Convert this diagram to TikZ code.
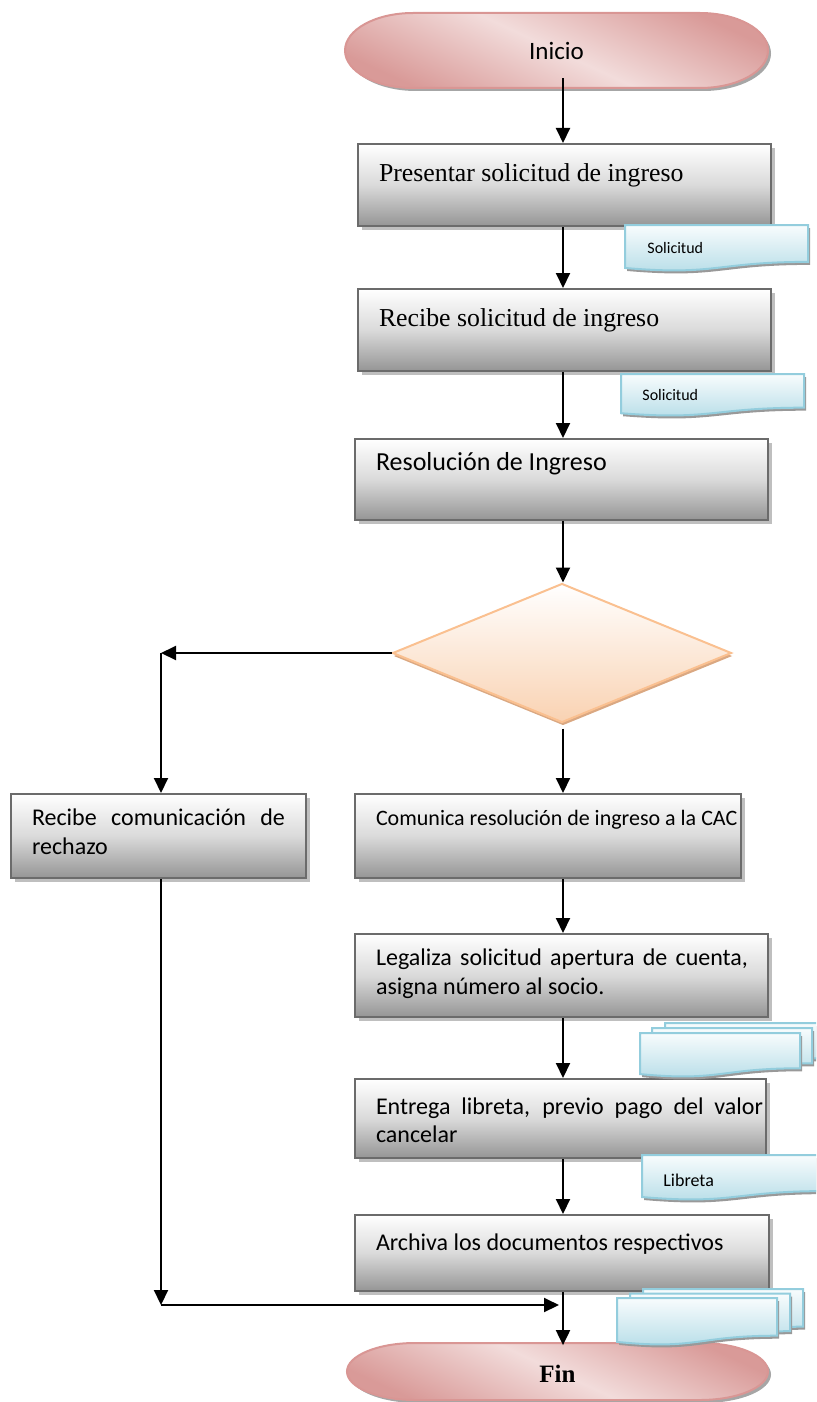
\documentclass[tikz,border=0pt]{standalone}
\usepackage{fontspec}
\setmainfont{Carlito}
\newfontfamily\tnr{Liberation Serif}
\usetikzlibrary{shapes.geometric,shadows,arrows.meta}
\definecolor{boxline}{HTML}{6B6B6B}
\definecolor{boxbot}{HTML}{959595}
\definecolor{boxmid}{HTML}{DADADA}
\definecolor{termline}{HTML}{D99694}
\definecolor{termdark}{HTML}{D99A98}
\definecolor{termlight}{HTML}{F2DCDB}
\definecolor{docline}{HTML}{93CDDD}
\definecolor{doctop}{HTML}{F8FCFD}
\definecolor{docbot}{HTML}{B4DCE7}
\definecolor{dialine}{HTML}{FAC090}
\definecolor{diabot}{HTML}{F9D2B2}
\definecolor{diashadow}{HTML}{DAA882}
\hbadness=10000
\newcommand\procnode[7]{\node[box] (#1) at (#2,#3) {\makebox[#4][l]{\hspace*{10.5pt}\parbox[c][#5][t]{#6}{#7}}};}
\newcommand\docshape[4]{\path[docsh] (#1,#2) -- ({#1+#3},#2) -- ({#1+#3},{#2+0.802*#4}) .. controls ({#1+0.5*#3},{#2+0.802*#4}) and ({#1+0.5*#3},{#2+1.108*#4}) .. (#1,{#2+0.934*#4}) -- cycle;}
\begin{document}
\begin{tikzpicture}[x=0.5pt,y=-0.5pt,
  box/.style={draw=boxline, line width=1pt, top color=white, bottom color=boxbot, middle color=boxmid,
    anchor=north west, inner sep=0pt,
    drop shadow={shadow xshift=2pt, shadow yshift=-2pt, fill=black!25, opacity=1}},
  term/.style={draw=termline, line width=1pt, top color=termdark, bottom color=termdark, middle color=termlight,
    shading angle=-25, drop shadow={shadow xshift=1.5pt, shadow yshift=-1.5pt, fill=black!35, opacity=1}},
  termtext/.style={draw=none, inner sep=0pt},
  docsh/.style={draw=docline, line width=1pt, top color=doctop, bottom color=docbot,
    drop shadow={shadow xshift=1pt, shadow yshift=-1.5pt, fill=black!40, opacity=1}},
  doctext/.style={inner sep=0pt, anchor=west},
  decision/.style={diamond, draw=dialine, line width=1pt, top color=white, bottom color=diabot,
    inner sep=0pt, minimum width=169.5pt, minimum height=69.5pt,
    drop shadow={shadow xshift=0.5pt, shadow yshift=-1.5pt, fill=diashadow, opacity=1}},
  arr/.style={line width=1pt, -{Triangle[length=7.5pt,width=7pt]}},
  plain/.style={line width=1pt}]
\clip (0,0) rectangle (816,1402);
% terminals
\path[term] (413,13) -- (700,13) arc[start angle=90,end angle=-90,x radius=34pt,y radius=18.75pt] -- (413,88) arc[start angle=270,end angle=90,x radius=34pt,y radius=18.75pt] -- cycle;
\node[termtext, minimum width=211.5pt, minimum height=37.5pt, font=\fontsize{12.5}{15}\selectfont] (ini) at (556.5,50.5) {Inicio};
\path[term] (415,1343) -- (700,1343) arc[start angle=90,end angle=-90,x radius=34pt,y radius=14.25pt] -- (415,1400) arc[start angle=270,end angle=90,x radius=34pt,y radius=14.25pt] -- cycle;
\node[termtext, minimum width=210.5pt, minimum height=28.5pt, font=\tnr\bfseries\fontsize{12.5}{15}\selectfont] (fin) at (557.5,1374) {Fin};
% process boxes
\procnode{b1}{357}{143}{206.5pt}{41pt}{185pt}{\vspace*{9.7pt}\tnr\fontsize{12.9}{15}\selectfont Presentar solicitud de ingreso}
\procnode{b2}{357}{288}{206.5pt}{41pt}{185pt}{\vspace*{9.7pt}\tnr\fontsize{12.9}{15}\selectfont Recibe solicitud de ingreso}
\procnode{b3}{354}{438}{206.5pt}{40.5pt}{185pt}{\vspace*{6.5pt}\fontsize{13}{15.5}\selectfont Resolución de Ingreso}
\procnode{b4}{10}{793}{147.5pt}{42pt}{126.5pt}{\vspace*{7.2pt}\fontsize{12}{14.5}\selectfont Recibe comunicación de\linebreak rechazo}
\procnode{b5}{354}{793}{193pt}{42pt}{190pt}{\vspace*{8pt}\raggedright\fontsize{11}{14}\selectfont Comunica resolución de ingreso a la CAC}
\procnode{b6}{354}{933}{206.5pt}{41.5pt}{186pt}{\vspace*{7.2pt}\fontsize{12}{14.5}\selectfont Legaliza solicitud apertura de cuenta,\linebreak asigna número al socio.}
\procnode{b7}{354}{1078}{205.5pt}{39.5pt}{193.5pt}{\vspace*{9.2pt}\fontsize{12}{14}\selectfont Entrega libreta, previo pago del valor\linebreak cancelar}
\procnode{b8}{354}{1214}{207pt}{38pt}{186pt}{\vspace*{9.2pt}\fontsize{12}{14.5}\selectfont Archiva los documentos respectivos}
% decision
\node[decision] (dec) at (562,653) {};
% documents
\docshape{625}{225}{183}{46}
\node[doctext, font=\fontsize{8}{9.6}\selectfont] (d1) at (647,248) {Solicitud};
\docshape{621}{374}{183}{42}
\node[doctext, font=\fontsize{8}{9.6}\selectfont] (d2) at (642,395) {Solicitud};
\docshape{665}{1023}{160}{44}
\docshape{652}{1028}{160}{44}
\docshape{640}{1033}{160}{44}
\docshape{642}{1155}{183}{45}
\node[doctext, font=\fontsize{9}{11}\selectfont] (d4) at (663,1180) {Libreta};
\docshape{643}{1289}{160}{47}
\docshape{630}{1293.5}{160}{47}
\docshape{617}{1298}{160}{47}
% connectors
\coordinate (col) at (563,0);
\coordinate (lcol) at (161,0);
\coordinate (c1) at (lcol |- dec.west);
\coordinate (c2) at (161,1305);
\draw[arr] ([yshift=5pt]ini.south -| col) -- (b1.north -| col);
\draw[arr] (b1.south -| col) -- (b2.north -| col);
\draw[arr] (b2.south -| col) -- (b3.north -| col);
\draw[arr] (b3.south -| col) -- (dec.north -| col);
\draw[arr] (dec.west) -- (c1);
\draw[arr] (c1) -- (b4.north -| lcol);
\draw[arr] ([yshift=-2.5pt]dec.south -| col) -- (b5.north -| col);
\draw[arr] (b5.south -| col) -- (b6.north -| col);
\draw[arr] (b6.south -| col) -- (b7.north -| col);
\draw[arr] (b7.south -| col) -- (b8.north -| col);
\draw[arr] (b8.south -| col) -- (fin.north -| col);
\draw[arr] (b4.south -| lcol) -- (c2);
\draw[arr] (c2) -- ([xshift=-2pt]c2 -| col);
\end{tikzpicture}
\end{document}
